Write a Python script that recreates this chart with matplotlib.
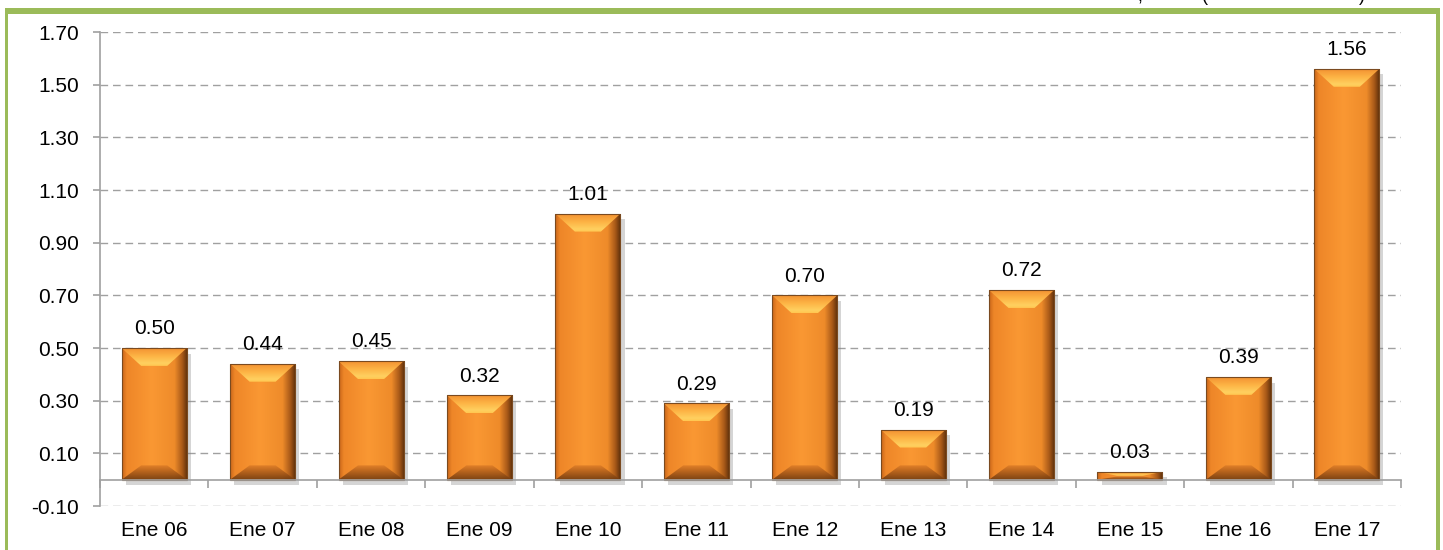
import numpy as np
import matplotlib
matplotlib.use('Agg')
from matplotlib import pyplot as plt
from matplotlib.colors import LinearSegmentedColormap
from matplotlib.patches import Polygon, Rectangle
import matplotlib.patheffects as pe

plt.rcParams['font.family'] = ['Liberation Sans', 'DejaVu Sans']

categories = ['Ene 06', 'Ene 07', 'Ene 08', 'Ene 09', 'Ene 10', 'Ene 11',
              'Ene 12', 'Ene 13', 'Ene 14', 'Ene 15', 'Ene 16', 'Ene 17']
values = [0.50, 0.44, 0.45, 0.32, 1.01, 0.29, 0.70, 0.19, 0.72, 0.03, 0.39, 1.56]
yticks = [-0.10, 0.10, 0.30, 0.50, 0.70, 0.90, 1.10, 1.30, 1.50, 1.70]

grid_color = '#A0A0A0'
green = '#9BBB59'

fig = plt.figure(figsize=(14.43, 5.5), dpi=100)
ax = fig.add_axes([0.0693, 0.080, 0.9016, 0.8618])

x = np.arange(len(categories))
bar_w = 0.6

# colour ramps for the bevelled bars
body = LinearSegmentedColormap.from_list('body', [
    (0.0, '#C9661A'), (0.07, '#EE8628'), (0.45, '#FA9833'),
    (0.80, '#EE8B2A'), (0.92, '#A65818'), (1.0, '#5A2E0B')])
top_ramp = LinearSegmentedColormap.from_list('top', [
    (0.0, '#F39232'), (0.45, '#FDB445'), (0.85, '#FFD060'), (1.0, '#FFC650')])
bot_ramp = LinearSegmentedColormap.from_list('bot', [
    (0.0, '#6E3A10'), (0.5, '#A85A1A'), (1.0, '#E07F28')])
hgrad = np.linspace(0, 1, 200).reshape(1, -1)
vgrad_top = np.linspace(0, 1, 100).reshape(-1, 1)
vgrad_bot = np.linspace(1, 0, 100).reshape(-1, 1)

bars = ax.bar(x, values, width=bar_w, color='#F08A2A', zorder=3,
              path_effects=[pe.SimplePatchShadow(offset=(3, -4), shadow_rgbFace='#888888', alpha=0.35),
                            pe.Normal()])

for b, v in zip(bars, values):
    x0 = b.get_x()
    x1 = x0 + b.get_width()
    im = ax.imshow(hgrad, cmap=body, extent=(x0, x1, 0, v), aspect='auto',
                   zorder=3.1, interpolation='bilinear')
    im.set_clip_path(b)
    bx = 0.18
    by = min(0.068, v / 2.0)
    top = Polygon([(x0, v), (x1, v), (x1 - bx, v - by), (x0 + bx, v - by)],
                  closed=True, facecolor='none', edgecolor='none', zorder=3.2)
    bot = Polygon([(x0, 0), (x1, 0), (x1 - bx, by * 0.8), (x0 + bx, by * 0.8)],
                  closed=True, facecolor='none', edgecolor='none', zorder=3.2)
    ax.add_patch(top)
    ax.add_patch(bot)
    imt = ax.imshow(vgrad_top, cmap=top_ramp, extent=(x0, x1, v - by, v), aspect='auto',
                    zorder=3.2, interpolation='bilinear')
    imt.set_clip_path(top)
    imb = ax.imshow(vgrad_bot, cmap=bot_ramp, extent=(x0, x1, 0, by * 0.8), aspect='auto',
                    zorder=3.2, interpolation='bilinear', alpha=0.9)
    imb.set_clip_path(bot)
    ax.add_patch(Rectangle((x0, 0), x1 - x0, v, facecolor='none',
                           edgecolor='#7A4A20', linewidth=0.8, zorder=3.4))
    ax.annotate(f'{v:.2f}', xy=(b.get_x() + b.get_width() / 2, v),
                xytext=(0, 7), textcoords='offset points', ha='center', va='bottom',
                fontsize=15, color='black', zorder=5)

ax.set_xlim(-0.5, len(categories) - 0.5)
ax.set_ylim(-0.10, 1.70)
ax.set_yticks(yticks)
ax.set_yticklabels([f'{t:.2f}' for t in yticks])
ax.yaxis.grid(True, color=grid_color, linestyle=(0, (5.5, 3.5)), linewidth=1)
ax.set_axisbelow(True)

for s in ['top', 'right']:
    ax.spines[s].set_visible(False)
ax.spines['left'].set_color(grid_color)
ax.spines['left'].set_linewidth(1.2)
ax.spines['bottom'].set_position(('data', 0))
ax.spines['bottom'].set_color(grid_color)
ax.spines['bottom'].set_linewidth(1.2)
ax.spines['bottom'].set_zorder(4)

ax.set_xticks(x)
ax.set_xticklabels(categories)
ax.set_xticks(np.arange(len(categories) + 1) - 0.5, minor=True)
ax.tick_params(axis='x', which='major', length=0, pad=30, labelsize=15)
ax.tick_params(axis='x', which='minor', length=6, width=1.2, color=grid_color, direction='out')
ax.tick_params(axis='y', length=5, width=1.2, color=grid_color, pad=10, labelsize=15)

# green frame
fig.patches.append(Rectangle((5 / 1443, 0), 3 / 1443, 1 - 8 / 550, transform=fig.transFigure,
                             facecolor=green, edgecolor='none'))
fig.patches.append(Rectangle((1436 / 1443, 0), 4 / 1443, 1 - 8 / 550, transform=fig.transFigure,
                             facecolor=green, edgecolor='none'))
fig.patches.append(Rectangle((5 / 1443, 1 - 14 / 550), 1435 / 1443, 6 / 550, transform=fig.transFigure,
                             facecolor=green, edgecolor='none'))

# title above the frame, cut off by the top edge as in the source image
for xp, ch in [(1140, ','), (1205, '('), (1362, ')')]:
    fig.text(xp / 1443, 1 - 1 / 550, ch, fontsize=13, va='baseline', ha='center')

fig.savefig('out.png', dpi=100)
